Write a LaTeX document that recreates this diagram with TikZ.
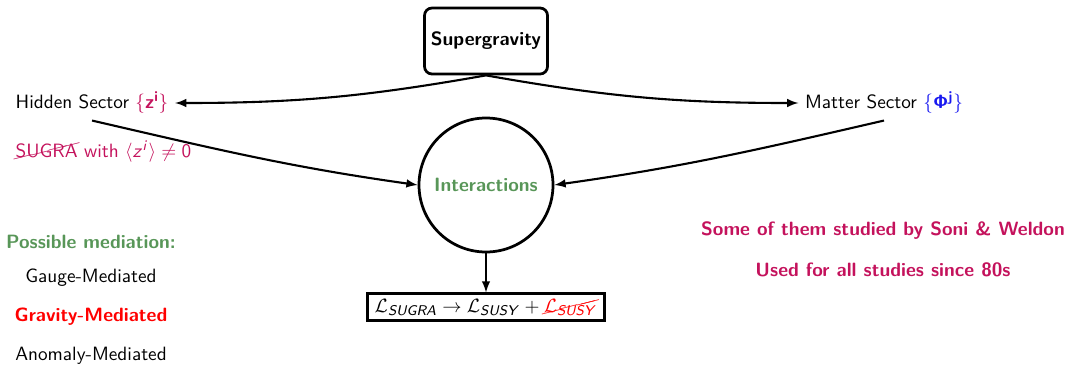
\documentclass[tikz,border=0pt,11pt]{standalone}
\usepackage{amsmath, amssymb}
\usepackage{cancel}
\usetikzlibrary{arrows.meta}
\renewcommand{\familydefault}{\sfdefault}
\DeclareMathAlphabet{\mathsfit}{OT1}{cmss}{m}{sl}
\DeclareMathAlphabet{\mathsfbf}{OT1}{cmss}{bx}{n}

\begin{document}
\begin{tikzpicture}[
    thick_box/.style={draw, line width=0.055cm, inner sep=0.12cm},
    flow/.style={line width=0.042cm, -latex}]
\definecolor{sugra_color}{RGB}{196,18,92}
\definecolor{inter_color}{RGB}{88,150,88}
\definecolor{matter_color}{RGB}{25,25,240}

\useasboundingbox (0,0) rectangle (21.34,7.32);

\node[thick_box, rounded corners=0.15cm, minimum width=2.46cm, minimum height=1.32cm, font=\bfseries] (sugra) at (9.72,6.50) {Supergravity};

\node (hidden) at (1.84,5.26) {Hidden Sector \textcolor{sugra_color}{$\{\mathsfbf{z}^{\mathsfbf{i}}\}$}};
\node (matter) at (17.68,5.26) {Matter Sector \textcolor{matter_color}{$\{\mathsfbf{\Phi}^{\mathsfbf{j}}\}$}};

\node[text=sugra_color] (nosugra) at (2.07,4.28) {\cancel{SUGRA} with $\langle \mathsfit{z}^{\mathsfit{i}} \rangle \neq \mathsf{0}$};

\node[draw, line width=0.055cm, circle, minimum size=2.68cm, text=inter_color, font=\bfseries] (inter) at (9.72,3.62) {Interactions};

\node[thick_box, inner xsep=0.14cm, inner ysep=0.1cm] (lagr) at (9.72,1.18) {$\mathcal{L}_{\mathsfit{SUGRA}} \rightarrow \mathcal{L}_{\mathsfit{SUSY}} + \textcolor{red}{\cancel{\mathcal{L}_{\mathsfit{SUSY}}}}$};

% mediation list
\node[text=inter_color, font=\bfseries] (mediation) at (1.82,2.48) {Possible mediation:};
\node (gauge) at (1.82,1.76) {Gauge-Mediated};
\node[text=red, font=\bfseries] (gravity) at (1.82,0.98) {Gravity-Mediated};
\node (anomaly) at (1.82,0.20) {Anomaly-Mediated};

\node[text=sugra_color, font=\bfseries] (soni) at (17.66,2.70) {Some of them studied by Soni \& Weldon};
\node[text=sugra_color, font=\bfseries] (since) at (17.66,1.92) {Used for all studies since 80s};

\draw[flow] (sugra.south) to[out=190, in=0] (hidden.east);
\draw[flow] (sugra.south) to[out=-10, in=180] (matter.west);

\draw[flow] (hidden.south) to[out=-13, in=172] (inter.west);
\draw[flow] (matter.south) to[out=193, in=8] (inter.east);

\draw[flow] (inter.south) -- (lagr.north);

\end{tikzpicture}
\end{document}
